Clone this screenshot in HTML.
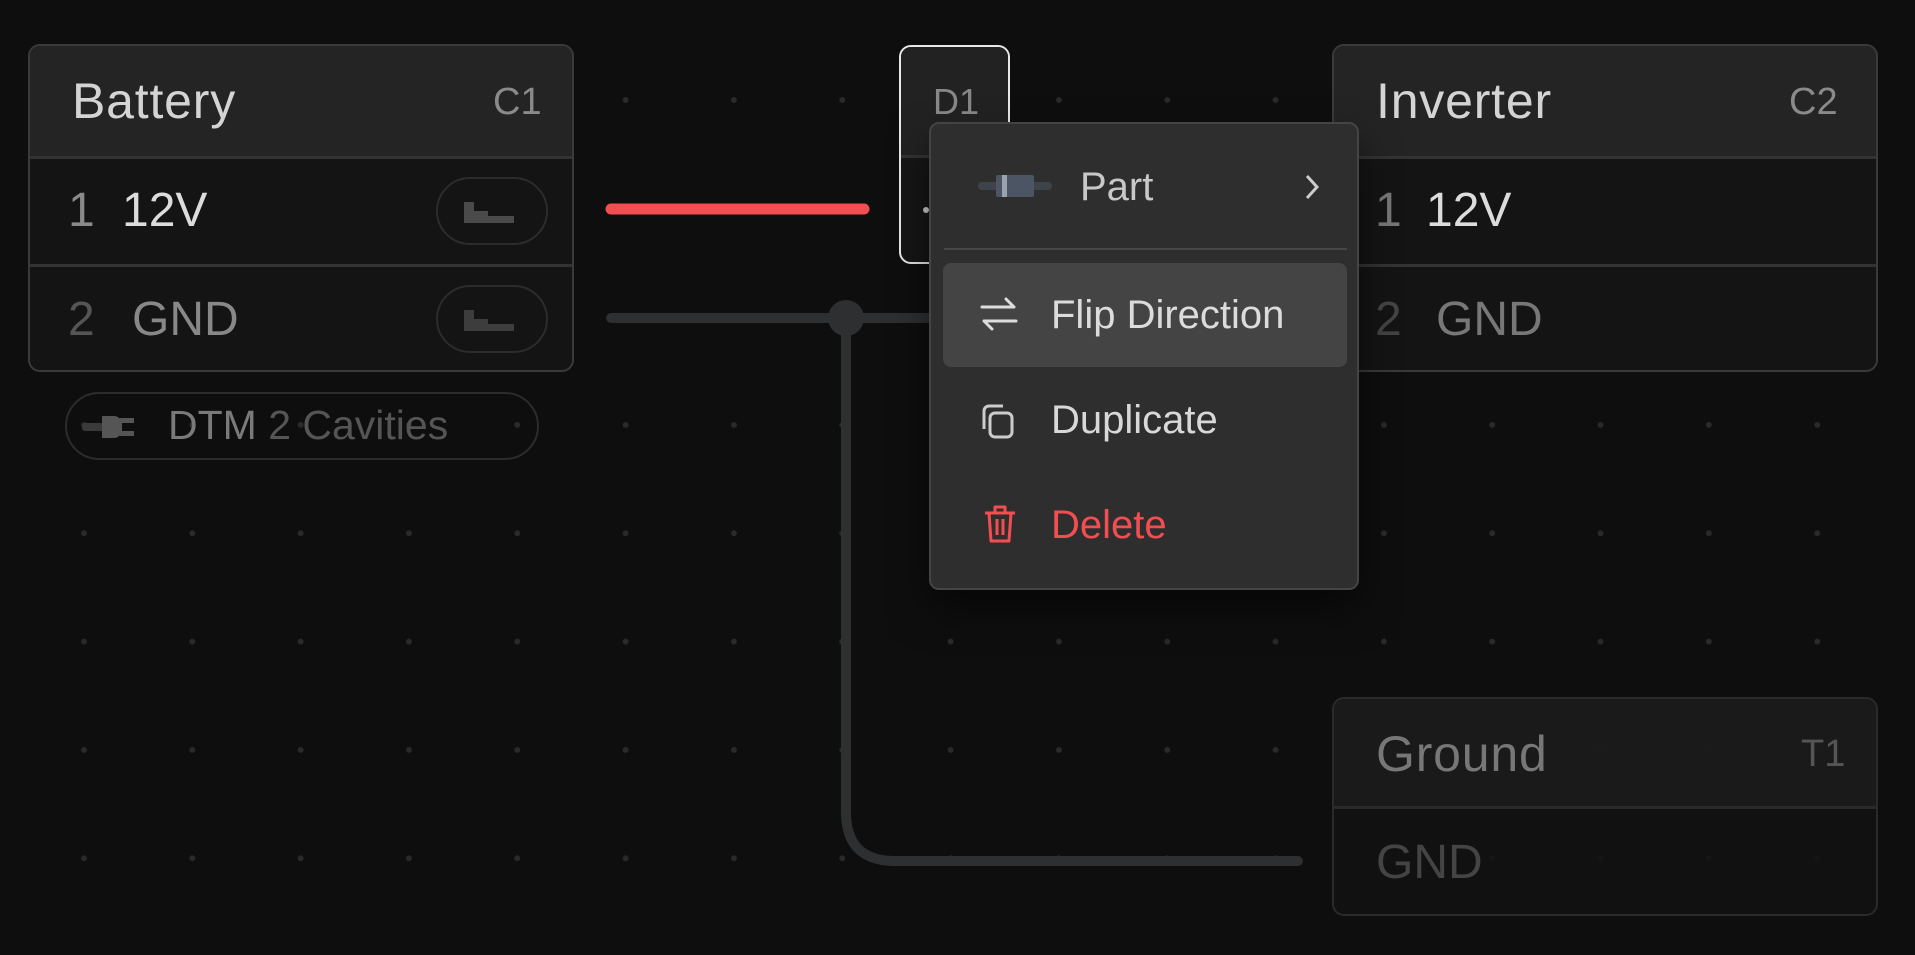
<!DOCTYPE html>
<html><head><meta charset="utf-8"><style>
*{margin:0;padding:0;box-sizing:border-box}
body{width:1915px;height:955px;overflow:hidden;background:#0e0e0e;font-family:"Liberation Sans",sans-serif;position:relative;
background-image:radial-gradient(circle,#2a2a2a 2.6px,transparent 3.2px);background-size:108.33px 108.33px;background-position:29.8px 45.8px}
.abs{position:absolute}
.card{position:absolute;border:2px solid #3a3a3a;border-radius:12px;overflow:hidden;background:#141414}
.hdr{position:absolute;left:0;right:0;top:0;background:#242424;border-bottom:3px solid #333}
.row{position:absolute;left:0;right:0;border-bottom:3px solid #333}
.t{position:absolute;white-space:nowrap;line-height:1}
.ti{font-size:50px;letter-spacing:0.8px}
.pill{position:absolute;border:2px solid #2c2c2c;border-radius:34px}
</style></head><body>
<svg class="abs" style="left:0;top:0" width="1915" height="955">
<line x1="611" y1="209" x2="864" y2="209" stroke="#f24e52" stroke-width="11" stroke-linecap="round"/>
<path d="M611 318 H930" stroke="#2e2f31" stroke-width="10" stroke-linecap="round" fill="none"/>
<path d="M846 318 V812 Q846 861 895 861 H1298" stroke="#2e2f31" stroke-width="10" stroke-linecap="round" fill="none"/>
<circle cx="846" cy="318" r="18" fill="#2e2f31"/>
</svg>

<!-- Battery -->
<div class="card" style="left:28px;top:44px;width:546px;height:328px">
<div class="hdr" style="height:113px"></div>
<div class="row" style="top:113px;height:108px"></div>
<div class="t ti" style="left:42px;top:30px;color:#d4d4d4">Battery</div>
<div class="t" style="left:463px;top:37px;font-size:38px;color:#8a8a8a">C1</div>
<div class="t" style="left:38px;top:141px;font-size:48px;color:#8a8a8a">1</div>
<div class="t" style="left:92px;top:141px;font-size:48px;color:#dcdcdc">12V</div>
<div class="t" style="left:38px;top:250px;font-size:48px;color:#555">2</div>
<div class="t" style="left:102px;top:250px;font-size:48px;color:#888">GND</div>
<div class="pill" style="left:406px;top:131px;width:112px;height:68px"></div>
<div class="pill" style="left:406px;top:239px;width:112px;height:68px"></div>
<svg class="abs" style="left:428px;top:150px" width="70" height="30"><path d="M6 6h10v9h14v5h26v7H6z" fill="#4a4a4a"/></svg>
<svg class="abs" style="left:428px;top:258px" width="70" height="30"><path d="M6 6h10v9h14v5h26v7H6z" fill="#3d3d3d"/></svg>
</div>

<!-- DTM -->
<div class="pill" style="left:65px;top:392px;width:474px;height:68px;border-radius:34px"></div>
<svg class="abs" style="left:80px;top:406px" width="64" height="40"><rect x="2" y="17" width="22" height="8" rx="3" fill="#3a3a3a"/><path d="M22 10h12a8 8 0 0 1 8 8v6a8 8 0 0 1-8 8H22z" fill="#555"/><rect x="40" y="12" width="14" height="5" fill="#555"/><rect x="40" y="25" width="14" height="5" fill="#555"/></svg>
<div class="t" style="left:168px;top:405px;font-size:41px;color:#7a7a7a">DTM <span style="color:#555">2 Cavities</span></div>

<!-- D1 -->
<div class="abs" style="left:899px;top:45px;width:111px;height:219px;border:2px solid #e8e8e8;border-radius:12px;background:#161616;overflow:hidden">
<div class="abs" style="left:0;right:0;top:0;height:111px;background:#222;border-bottom:3px solid #333"></div>
<div class="t" style="left:32px;top:37px;font-size:36px;color:#888">D1</div>
<div class="abs" style="left:22px;top:160px;width:6px;height:6px;border-radius:3px;background:#ccc"></div>
</div>

<!-- Inverter -->
<div class="card" style="left:1332px;top:44px;width:546px;height:328px">
<div class="hdr" style="height:113px"></div>
<div class="row" style="top:113px;height:108px"></div>
<div class="t ti" style="left:42px;top:30px;color:#d4d4d4">Inverter</div>
<div class="t" style="left:455px;top:37px;font-size:38px;color:#8a8a8a">C2</div>
<div class="t" style="left:41px;top:141px;font-size:48px;color:#777">1</div>
<div class="t" style="left:92px;top:141px;font-size:48px;color:#dcdcdc">12V</div>
<div class="t" style="left:41px;top:250px;font-size:48px;color:#444">2</div>
<div class="t" style="left:102px;top:250px;font-size:48px;color:#777">GND</div>
</div>

<!-- Ground -->
<div class="card" style="left:1332px;top:697px;width:546px;height:219px;background:rgba(18,18,18,0.85);border-color:#2a2a2a">
<div class="hdr" style="height:110px;background:rgba(28,28,28,0.9);border-bottom-color:#2a2a2a"></div>
<div class="t ti" style="left:42px;top:30px;color:#777">Ground</div>
<div class="t" style="left:467px;top:36px;font-size:38px;color:#555">T1</div>
<div class="t" style="left:42px;top:140px;font-size:48px;color:#444">GND</div>
</div>

<!-- Menu -->
<div class="abs" style="left:929px;top:122px;width:430px;height:468px;background:#2e2e2e;border:2px solid #444;border-radius:10px;box-shadow:0 20px 40px rgba(0,0,0,0.5)">
<svg class="abs" style="left:47px;top:50px" width="74" height="24"><rect x="0" y="8" width="74" height="8" rx="4" fill="#3f444b"/><rect x="18" y="1" width="38" height="22" rx="2" fill="#4b5563"/><rect x="24" y="1" width="5" height="22" fill="#9aa3ad"/></svg>
<div class="t" style="left:149px;top:43px;font-size:40px;color:#c8c8c8">Part</div>
<svg class="abs" style="left:371px;top:48px" width="20" height="30"><path d="M5 4l10 11-10 11" stroke="#ccc" stroke-width="3" fill="none"/></svg>
<div class="abs" style="left:13px;top:124px;width:403px;height:2px;background:#474747"></div>
<div class="abs" style="left:12px;top:139px;width:404px;height:104px;background:#444;border-radius:8px"></div>
<svg class="abs" style="left:48px;top:172px" width="40" height="36"><path d="M3 11h32M27 3l8 8M5 25h32M5 25l8 8" stroke="#ddd" stroke-width="3" fill="none" stroke-linecap="round"/></svg>
<div class="t" style="left:120px;top:171px;font-size:40px;color:#dcdcdc">Flip Direction</div>
<svg class="abs" style="left:50px;top:278px" width="36" height="40"><rect x="9" y="11" width="22" height="24" rx="5" stroke="#ccc" stroke-width="3" fill="none"/><path d="M3 27V9a5 5 0 0 1 5-5h14" stroke="#ccc" stroke-width="3" fill="none"/></svg>
<div class="t" style="left:120px;top:276px;font-size:40px;color:#d8d8d8">Duplicate</div>
<svg class="abs" style="left:52px;top:380px" width="34" height="40"><path d="M2 9h30M12 9V3h10v6M6 9l2 28h18l2-28M14 15v16M20 15v16" stroke="#f24e52" stroke-width="3" fill="none" stroke-linejoin="round"/></svg>
<div class="t" style="left:120px;top:381px;font-size:40px;color:#f24e52">Delete</div>
</div>
</body></html>
